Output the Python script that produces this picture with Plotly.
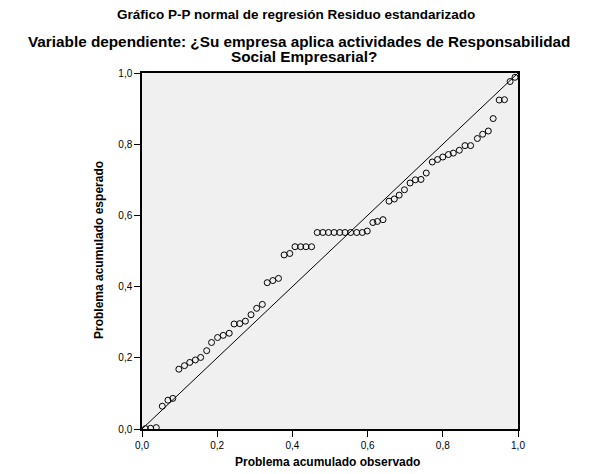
import plotly.graph_objects as go

# Observed cumulative probability (x) and expected cumulative probability (y)
observed = [0.009, 0.023, 0.038, 0.054, 0.069, 0.082, 0.098, 0.113, 0.127, 0.142,
            0.156, 0.172, 0.185, 0.201, 0.216, 0.232, 0.245, 0.260, 0.275, 0.290,
            0.305, 0.320, 0.333, 0.348, 0.363, 0.378, 0.393, 0.407, 0.422, 0.436,
            0.451, 0.466, 0.481, 0.496, 0.511, 0.526, 0.540, 0.555, 0.571, 0.586,
            0.599, 0.614, 0.626, 0.641, 0.657, 0.671, 0.684, 0.698, 0.713, 0.727,
            0.742, 0.756, 0.772, 0.786, 0.800, 0.815, 0.828, 0.844, 0.859, 0.874,
            0.892, 0.906, 0.921, 0.934, 0.950, 0.964, 0.979, 0.992]
expected = [0.001, 0.002, 0.004, 0.064, 0.081, 0.086, 0.168, 0.178, 0.187, 0.194,
            0.201, 0.220, 0.243, 0.257, 0.263, 0.269, 0.295, 0.296, 0.303, 0.321,
            0.339, 0.350, 0.411, 0.417, 0.423, 0.489, 0.493, 0.512, 0.512, 0.512,
            0.512, 0.552, 0.552, 0.552, 0.552, 0.552, 0.552, 0.552, 0.552, 0.552,
            0.556, 0.580, 0.583, 0.588, 0.640, 0.646, 0.657, 0.672, 0.691, 0.700,
            0.701, 0.719, 0.750, 0.757, 0.764, 0.771, 0.775, 0.783, 0.796, 0.796,
            0.816, 0.828, 0.837, 0.872, 0.924, 0.925, 0.976, 0.988]
diag = [0.0, 1.0]
tick_vals = [0.0, 0.2, 0.4, 0.6, 0.8, 1.0]

title_text = "<b>Gráfico P-P normal de regresión Residuo estandarizado</b>"
subtitle_line1 = "<b>Variable dependiente: ¿Su empresa aplica actividades de Responsabilidad</b>"
subtitle_line2 = "<b>Social Empresarial?</b>"
x_title = "<b>Problema acumulado observado</b>"
y_title = "<b>Problema acumulado esperado</b>"

W, H = 598, 474
ML, MR, MT, MB = 142, 80, 73, 45
W_plot = W - ML - MR
H_plot = H - MT - MB


def px_x(px):
    return (px - ML) / W_plot


def px_y(py):
    return (H - MB - py) / H_plot


fig = go.Figure()
fig.add_trace(go.Scatter(x=diag, y=diag, mode="lines",
                         line=dict(color="black", width=1), hoverinfo="skip",
                         showlegend=False))
fig.add_trace(go.Scatter(x=observed, y=expected, mode="markers",
                         marker=dict(symbol="circle-open", size=6, color="black",
                                     line=dict(width=1, color="black")),
                         showlegend=False))

axis_common = dict(range=[0, 1], tickvals=tick_vals, tickformat=".1f",
                   ticks="outside", ticklen=6, tickwidth=1, tickcolor="black",
                   showgrid=False, zeroline=False, showline=True, linecolor="black",
                   linewidth=1.5, mirror=True, automargin=False,
                   tickfont=dict(family="Liberation Sans, Arial", size=10, color="black"))

fig.update_layout(
    width=W, height=H,
    separators=",.",
    paper_bgcolor="white", plot_bgcolor="#f0f0f0",
    margin=dict(l=ML, r=MR, t=MT, b=MB, autoexpand=False),
    font=dict(family="Liberation Sans, Arial", color="black"),
    xaxis=dict(axis_common),
    yaxis=dict(axis_common),
    annotations=[
        dict(text=title_text, xref="paper", yref="paper", x=px_x(296), y=px_y(14),
             xanchor="center", yanchor="middle", showarrow=False, font=dict(size=13.5)),
        dict(text=subtitle_line1, xref="paper", yref="paper", x=px_x(299), y=px_y(41.5),
             xanchor="center", yanchor="middle", showarrow=False, font=dict(size=15.3)),
        dict(text=subtitle_line2, xref="paper", yref="paper", x=px_x(304), y=px_y(57),
             xanchor="center", yanchor="middle", showarrow=False, font=dict(size=15.3)),
        dict(text=x_title, xref="paper", yref="paper", x=px_x(327), y=px_y(462),
             xanchor="center", yanchor="middle", showarrow=False, font=dict(size=12)),
        dict(text=y_title, xref="paper", yref="paper", x=px_x(99), y=px_y(250),
             xanchor="center", yanchor="middle", textangle=-90, showarrow=False,
             font=dict(size=12)),
    ],
)

fig.write_html("out.html", config={"displayModeBar": False},
               post_script="document.body.style.margin='0';")
